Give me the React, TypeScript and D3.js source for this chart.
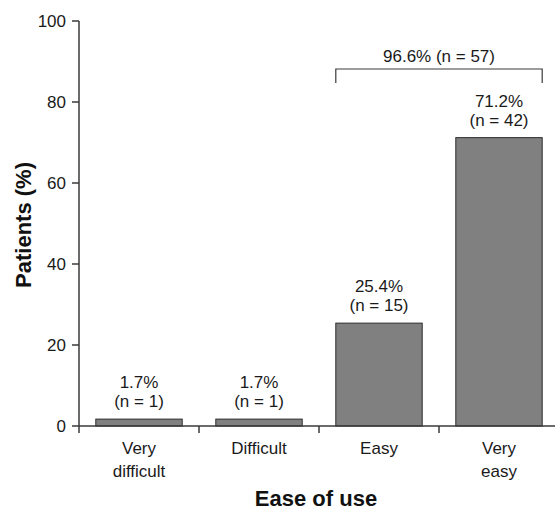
import React from "react";
import * as d3 from "d3";

const categories: string[][] = [["Very", "difficult"], ["Difficult"], ["Easy"], ["Very", "easy"]];
const percentages: number[] = [1.7, 1.7, 25.4, 71.2];
const counts: number[] = [1, 1, 15, 42];
const yTicks: number[] = [0, 20, 40, 60, 80, 100];
const bracketLabel = "96.6% (n = 57)";
const bracketFrom = 2;
const bracketTo = 3;

const W = 555;
const H = 510;
const margin = { left: 79, right: 0, top: 21, bottom: 84 };
const font = "Liberation Sans, Arial, Helvetica, sans-serif";
const axisColor = "#3a3a3a";
const fs = 17;

export default function App() {
  const x = d3
    .scaleBand<number>()
    .domain(d3.range(categories.length))
    .range([margin.left, margin.left + 120 * categories.length])
    .paddingInner(0.28)
    .paddingOuter(0.14);
  const step = x.step();
  const y = d3.scaleLinear().domain([0, 100]).range([H - margin.bottom, margin.top]);
  const y0 = y(0);
  const bx0 = x(bracketFrom)!;
  const bx1 = x(bracketTo)! + x.bandwidth();
  const bTop = 69;
  const bBottom = 83;

  return (
    <svg width={W} height={H} style={{ position: "absolute", left: 0, top: 0 }} fontFamily={font}>
      <rect width={W} height={H} fill="#fff" />
      {/* bars */}
      {percentages.map((v, i) => (
        <rect
          key={i}
          x={x(i)}
          y={y(v)}
          width={x.bandwidth()}
          height={y0 - y(v)}
          fill="#808080"
          stroke="#2b2b2b"
          strokeWidth={1}
        />
      ))}
      {/* value labels */}
      {percentages.map((v, i) => {
        const cx = x(i)! + x.bandwidth() / 2;
        const base = y(v) - 12;
        return (
          <g key={i} fontSize={fs} fill="#1a1a1a" textAnchor="middle">
            <text x={cx} y={base - 19}>{`${v.toFixed(1)}%`}</text>
            <text x={cx} y={base}>{`(n = ${counts[i]})`}</text>
          </g>
        );
      })}
      {/* y axis */}
      <line x1={margin.left} x2={margin.left} y1={y(100)} y2={y0} stroke={axisColor} strokeWidth={1.5} />
      {yTicks.map((t) => (
        <g key={t}>
          <line x1={margin.left - 7} x2={margin.left} y1={y(t)} y2={y(t)} stroke={axisColor} strokeWidth={1.5} />
          <text x={margin.left - 13} y={y(t) + 6} textAnchor="end" fontSize={fs} fill="#1a1a1a">
            {t}
          </text>
        </g>
      ))}
      {/* x axis */}
      <line x1={margin.left} x2={W} y1={y0} y2={y0} stroke={axisColor} strokeWidth={1.5} />
      {d3.range(categories.length + 1).map((i) => (
        <line
          key={i}
          x1={margin.left + step * i}
          x2={margin.left + step * i}
          y1={y0}
          y2={y0 + 7}
          stroke={axisColor}
          strokeWidth={1.5}
        />
      ))}
      {categories.map((lines, i) => (
        <text key={i} x={x(i)! + x.bandwidth() / 2} textAnchor="middle" fontSize={fs} fill="#1a1a1a">
          {lines.map((l, j) => (
            <tspan key={j} x={x(i)! + x.bandwidth() / 2} y={y0 + 28 + j * 23}>
              {l}
            </tspan>
          ))}
        </text>
      ))}
      {/* bracket */}
      <path
        d={`M${bx0},${bBottom}V${bTop}H${bx1}V${bBottom}`}
        fill="none"
        stroke={axisColor}
        strokeWidth={1.2}
      />
      <text x={(bx0 + bx1) / 2} y={62} textAnchor="middle" fontSize={fs} fill="#1a1a1a">
        {bracketLabel}
      </text>
      {/* axis titles */}
      <text x={316} y={506} textAnchor="middle" fontSize={22} fontWeight="bold" fill="#111">
        Ease of use
      </text>
      <text
        transform={`translate(31,225) rotate(-90)`}
        textAnchor="middle"
        fontSize={22}
        fontWeight="bold"
        fill="#111"
      >
        Patients (%)
      </text>
    </svg>
  );
}
